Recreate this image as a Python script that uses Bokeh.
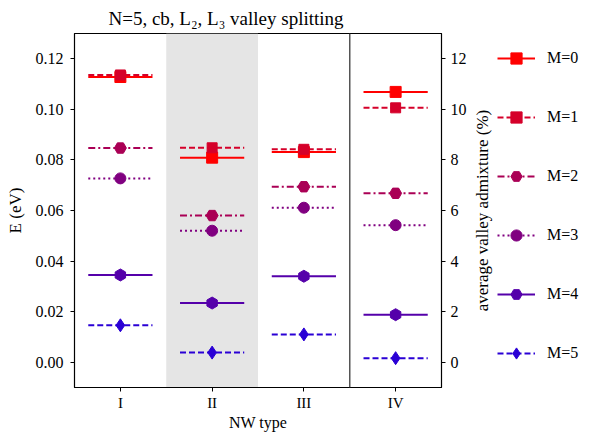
from bokeh.plotting import figure
from bokeh.layouts import row
from bokeh.models import (Range1d, LinearAxis, FixedTicker, BoxAnnotation, Span,
                          Legend, LegendItem, NumeralTickFormatter, Title)
from bokeh.embed import file_html
from bokeh.resources import INLINE

nw_types = ["I", "II", "III", "IV"]
E_M0 = [0.1128, 0.0809, 0.0831, 0.1069]
E_M1 = [0.1136, 0.0848, 0.0842, 0.1006]
E_M2 = [0.0847, 0.0580, 0.0694, 0.0668]
E_M3 = [0.0727, 0.0520, 0.0611, 0.0542]
E_M4 = [0.0345, 0.0234, 0.0340, 0.0188]
E_M5 = [0.0146, 0.0038, 0.0110, 0.0016]
series = [E_M0, E_M1, E_M2, E_M3, E_M4, E_M5]
labels = ["M=0", "M=1", "M=2", "M=3", "M=4", "M=5"]
colors = ["#ff0000", "#d5002a", "#aa0055", "#800080", "#5500aa", "#2a00d5"]
dashes = ["solid", "6 3", "7 3 2 3", "2 3", "solid", "6 3"]
markers = ["square", "square", "hex", "circle", "hex", "diamond"]
msizes = [11, 10, 12, 11, 12, 13]
mangles = [0, 0, 0, 0, 1.5708, 0]

FONT = "Liberation Serif"

p = figure(width=469, height=433, output_backend="svg", toolbar_location=None,
           x_range=Range1d(-0.5, 3.5), y_range=Range1d(-0.01, 0.13),
           min_border_left=74, min_border_top=33, min_border_right=28,
           min_border_bottom=10)
p.extra_y_ranges = {"pct": Range1d(-1, 13)}
p.grid.visible = False
p.outline_line_color = "black"
p.outline_line_width = 1.2

p.title.text = "N=5, cb, L\u2082, L\u2083 valley splitting"
p.title.text_font = FONT
p.title.text_font_size = "19px"
p.title.text_font_style = "normal"
p.title.align = "left"
p.title.offset = 34
p.title.text_color = "black"

band = BoxAnnotation(left=0.5, right=1.5, fill_color="#e5e5e5", fill_alpha=1.0,
                     line_alpha=0, level="underlay")
p.add_layout(band)
p.add_layout(Span(location=2.5, dimension="height", line_color="#555555", line_width=1.5))

xs = list(range(len(nw_types)))
items = []
p2 = figure(width=123, height=433, output_backend="svg", toolbar_location=None,
            x_range=Range1d(0, 1), y_range=Range1d(0, 1),
            x_axis_location=None, y_axis_location=None,
            min_border_left=0, min_border_right=0, min_border_top=0, min_border_bottom=9)
p2.grid.visible = False
p2.outline_line_color = None

for k in range(len(series)):
    ys = series[k]
    p.segment(x0=[x - 0.35 for x in xs], x1=[x + 0.35 for x in xs], y0=ys, y1=ys,
              line_color=colors[k], line_width=2, line_dash=dashes[k])
    p.scatter(xs, ys, marker=markers[k], size=msizes[k], angle=mangles[k],
              fill_color=colors[k], line_color=colors[k], line_width=1)
    # legend proxies, placed outside the legend panel's visible range
    lseg = p2.segment(x0=[5], x1=[6], y0=[5], y1=[5], line_color=colors[k], line_width=2,
                      line_dash=dashes[k])
    lsc = p2.scatter(x=[5], y=[5], marker=markers[k], size=msizes[k], angle=mangles[k],
                     fill_color=colors[k], line_color=colors[k], line_width=1)
    items.append(LegendItem(label=labels[k], renderers=[lseg, lsc]))

def style_axis(ax, fs="16px", lfs="17px"):
    ax.major_label_text_font = FONT
    ax.major_label_text_font_size = fs
    ax.major_label_text_color = "black"
    ax.axis_label_text_font = FONT
    ax.axis_label_text_font_size = lfs
    ax.axis_label_text_font_style = "normal"
    ax.axis_label_text_color = "black"
    ax.axis_line_color = "black"
    ax.major_tick_line_color = "black"
    ax.major_tick_out = 4
    ax.major_tick_in = 0
    ax.minor_tick_line_color = None
    ax.major_label_standoff = 7
    ax.axis_label_standoff = 8

xa = p.xaxis[0]
xa.ticker = FixedTicker(ticks=xs)
xa.major_label_overrides = {i: t for i, t in enumerate(nw_types)}
xa.axis_label = "NW type"
style_axis(xa, "15px", "16px")
xa.major_label_standoff = 3
xa.axis_label_standoff = 0

ya = p.yaxis[0]
ya.ticker = FixedTicker(ticks=[0, 0.02, 0.04, 0.06, 0.08, 0.10, 0.12])
ya.formatter = NumeralTickFormatter(format="0.00")
ya.axis_label = "E (eV)"
style_axis(ya)

ra = LinearAxis(y_range_name="pct", ticker=FixedTicker(ticks=[0, 2, 4, 6, 8, 10, 12]))
style_axis(ra)
ra.major_label_standoff = 5
p.add_layout(ra, "right")

# right-axis label (reads bottom-to-top, like the reference)
rlabel = Title(text="average valley admixture (%)", align="center", standoff=3,
               text_font=FONT, text_font_size="17px", text_font_style="normal",
               text_color="black")
p2.add_layout(rlabel, "left")

legend = Legend(items=items, location=(0, 16), glyph_width=38, glyph_height=28,
                label_height=28, spacing=31, label_standoff=12, padding=4, margin=0,
                border_line_alpha=0, background_fill_alpha=0,
                label_text_font=FONT, label_text_font_size="16px", label_text_color="black")
p2.add_layout(legend)

open("out.html", "w").write(file_html(row(p, p2), INLINE))
